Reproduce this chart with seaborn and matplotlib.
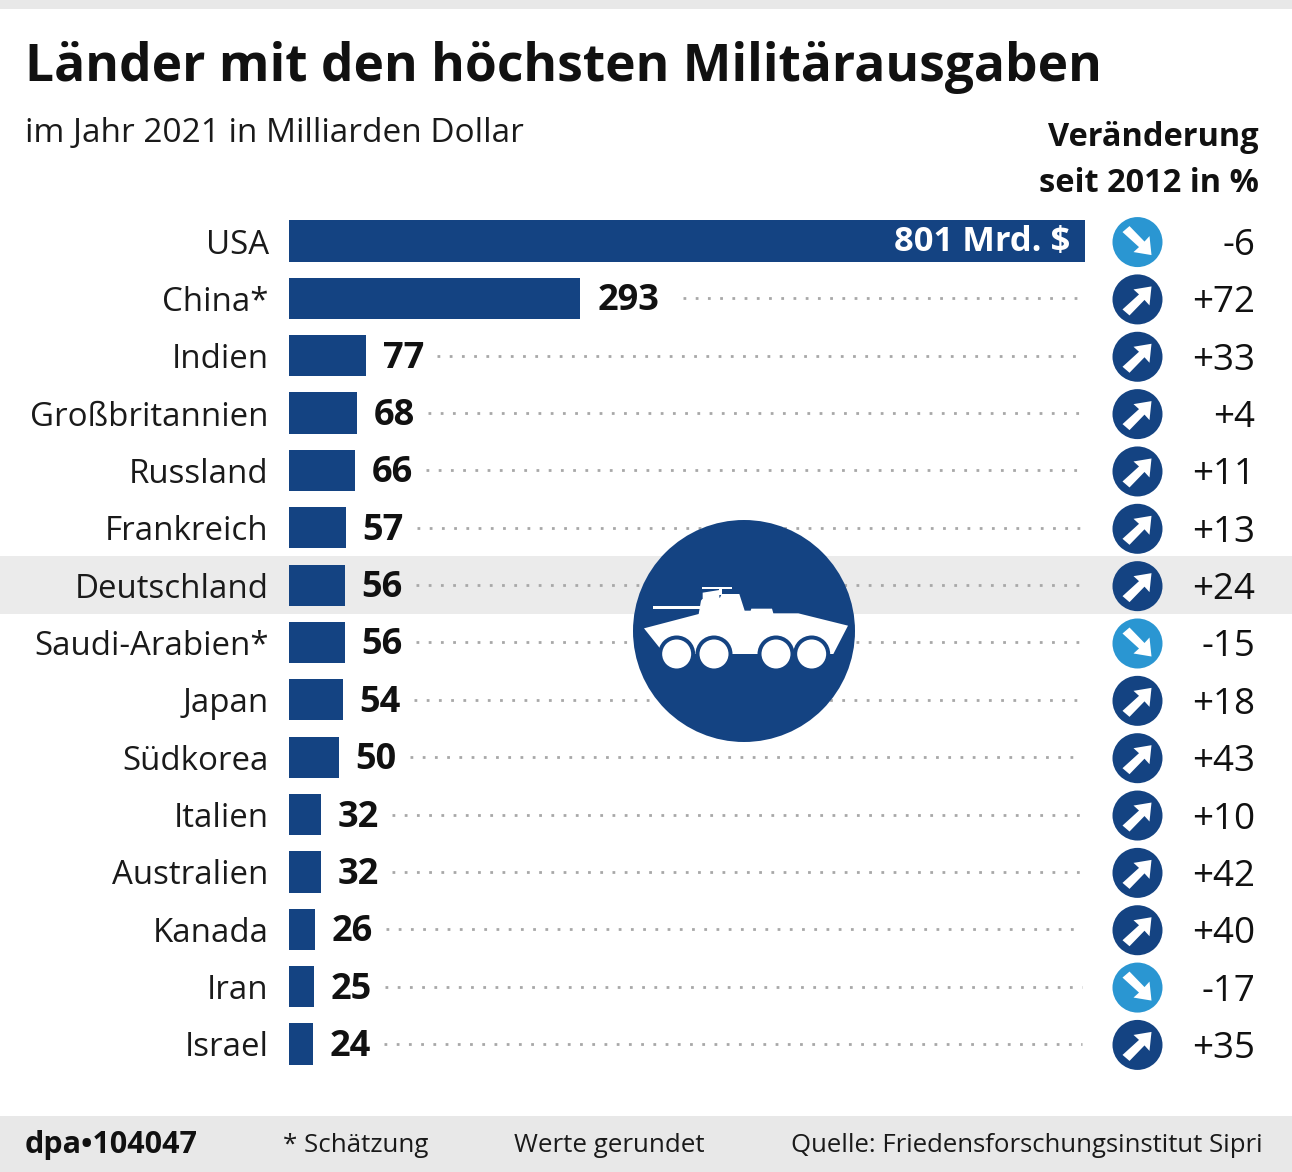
import matplotlib
matplotlib.use('Agg')
import matplotlib.pyplot as plt
import pandas as pd
import seaborn as sns
from matplotlib.patches import Circle, Polygon, Rectangle

# Daten
countries = ['USA', 'China*', 'Indien', 'Großbritannien', 'Russland', 'Frankreich', 'Deutschland',
             'Saudi-Arabien*', 'Japan', 'Südkorea', 'Italien', 'Australien', 'Kanada', 'Iran', 'Israel']
spending = [801, 293, 77, 68, 66, 57, 56, 56, 54, 50, 32, 32, 26, 25, 24]
change = [-6, 72, 33, 4, 11, 13, 24, -15, 18, 43, 10, 42, 40, -17, 35]

BLUE = '#144382'
LIGHT = '#2a96d2'
GREY = '#e8e8e8'
W, H = 1292, 1172

sns.set_theme(style='white')
plt.rcParams['font.family'] = ['Open Sans', 'DejaVu Sans']

fig = plt.figure(figsize=(W / 100, H / 100), dpi=100)

# overlay in Pixelkoordinaten fuer Baender, Icons und Texte
bg = fig.add_axes([0, 0, 1, 1], zorder=0)
bg.set_xlim(0, W)
bg.set_ylim(H, 0)
bg.axis('off')
bg.add_patch(Rectangle((0, 0), W, 9, color=GREY, lw=0))
bg.add_patch(Rectangle((0, 1116), W, 56, color=GREY, lw=0))
bg.add_patch(Rectangle((0, 556), W, 58, color='#ebebeb', lw=0))

top, bottom = 212.4, 1072.6
ax = fig.add_axes([289 / W, 1 - bottom / H, 796 / W, (bottom - top) / H], zorder=1)
ax.patch.set_alpha(0)
df = pd.DataFrame({'land': countries, 'wert': spending})
sns.barplot(data=df, y='land', x='wert', color=BLUE, width=0.72, saturation=1, linewidth=0, ax=ax)
ax.set_xlim(0, 801)
ax.set_ylim(14.5, -0.5)
ax.set_xlabel('')
ax.set_ylabel('')
ax.xaxis.set_visible(False)
ax.tick_params(axis='y', length=0, pad=14.5, labelsize=23.8, labelcolor='#1a1a1a')
sns.despine(ax=ax, left=True, bottom=True)

for i, v in enumerate(spending):
    if i == 0:
        ax.annotate('801 Mrd. $', (v, i), xytext=(-15, -1), textcoords='offset pixels', ha='right',
                    va='center', color='white', fontsize=24.8, fontweight='bold')
        continue
    ax.annotate(str(v), (v, i), xytext=(17, -3), textcoords='offset pixels', ha='left', va='center',
                color='#111111', fontsize=26, fontweight='bold')
    gap = 103 if v >= 100 else 72
    ax.plot([v + gap, 798], [i, i], color='#a8a8a8', lw=2, dashes=(1, 3.4), zorder=0)

# Icon Mitte
top_ax = fig.add_axes([0, 0, 1, 1], zorder=2)
top_ax.set_xlim(0, W)
top_ax.set_ylim(H, 0)
top_ax.axis('off')
top_ax.patch.set_alpha(0)


def z(points):
    # Punkte aus dem Zoom (3x) zurueckrechnen
    return [(620 + x / 3, 510 + y / 3) for x, y in points]


hull = [(72, 355), (236, 312), (243, 272), (250, 263), (300, 263), (305, 252), (358, 252), (374, 302),
        (392, 302), (394, 296), (456, 296), (460, 310), (535, 310), (684, 347), (640, 432),
        (120, 432), (120, 415)]
top_ax.add_patch(Circle((744, 631), 111, color=BLUE, lw=0))
top_ax.add_patch(Polygon(z(hull), color='white', lw=0))
top_ax.add_patch(Polygon(z([(98, 287), (240, 287), (240, 296), (98, 296)]), color='white', lw=0))
top_ax.add_patch(Polygon(z([(246, 231), (336, 231), (336, 238), (246, 238)]), color='white', lw=0))
top_ax.add_patch(Polygon(z([(298, 238), (306, 238), (306, 256), (298, 256)]), color='white', lw=0))
top_ax.add_patch(Polygon(z([(248, 248), (298, 240), (298, 264), (248, 264)]), color='white', lw=0))
for cx in [170, 282, 468, 575]:
    (px, py), = z([(cx, 432)])
    top_ax.add_patch(Circle((px, py), 18.5, color=BLUE, lw=0))
    top_ax.add_patch(Circle((px, py), 14.5, color='white', lw=0))

# Pfeile und Veraenderung
up = [(14, -13), (-4, -10), (1.5, -5), (-15, 10), (-8, 16), (7, 0.5), (12, 6)]
pitch = (bottom - top) / 15
for i, c in enumerate(change):
    y = top + pitch * (i + 0.5)
    col = BLUE if c > 0 else LIGHT
    top_ax.add_patch(Circle((1137.5, y + 1), 25, color=col, lw=0))
    sign = 1 if c > 0 else -1
    top_ax.add_patch(Polygon([(1137.5 + a, y + 1 + sign * b) for a, b in up], color='white', lw=0))
    top_ax.text(1255, y + 5, f'{c:+d}', ha='right', va='center', fontsize=26.5, color='#111111')

# Texte
top_ax.text(25, 68, 'Länder mit den höchsten Militärausgaben', fontsize=37.1, fontweight='bold', va='center', color='#111111')
top_ax.text(25, 133, 'im Jahr 2021 in Milliarden Dollar', fontsize=24, va='center', color='#1a1a1a')
top_ax.text(1259, 138, 'Veränderung', fontsize=23.4, fontweight='bold', ha='right', va='center', color='#111111')
top_ax.text(1259, 183, 'seit 2012 in %', fontsize=23.4, fontweight='bold', ha='right', va='center', color='#111111')
top_ax.text(25, 1145, 'dpa•104047', fontsize=22, fontweight='bold', va='center', color='#111111')
top_ax.text(283, 1146, '* Schätzung', fontsize=18.6, va='center', color='#1a1a1a')
top_ax.text(514, 1146, 'Werte gerundet', fontsize=18.6, va='center', color='#1a1a1a')
top_ax.text(1263, 1146, 'Quelle: Friedensforschungsinstitut Sipri', fontsize=18.5, ha='right', va='center', color='#1a1a1a')

fig.savefig('out.png', dpi=100)
